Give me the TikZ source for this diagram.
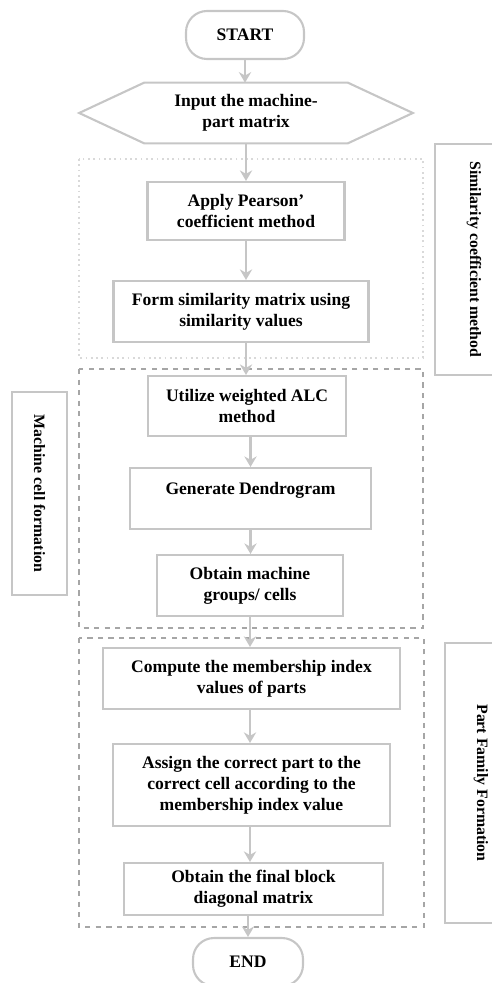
\documentclass[tikz,border=0pt]{standalone}
\usepackage{fontspec}
\setmainfont{Liberation Serif}
\usetikzlibrary{arrows.meta}

\begin{document}
\begin{tikzpicture}[x=0.02cm, y=-0.02cm,
    every node/.style={font=\bfseries, align=center},
    stepbox/.style={draw=gray!45, line width=1.2pt, inner sep=2pt},
    termbox/.style={stepbox, rounded corners=0.42cm},
    sidebox/.style={draw=gray!45, line width=1.2pt, rotate=-90, font=\small\bfseries},
    flowarrow/.style={draw=gray!45, line width=1.2pt, -{Stealth[length=6pt, width=7pt]}}]
  \useasboundingbox (0,0) rectangle (491,983);

  % Stage frames
  \draw[gray!30, dotted, line width=1pt] (79,159) rectangle (423,358);
  \draw[gray!70, dashed, line width=0.7pt] (79,369) rectangle (423,628);
  \draw[gray!70, dashed, line width=0.7pt] (79,638) rectangle (424,927);

  % Flow steps
  \node[termbox, minimum width=2.36cm, minimum height=0.96cm] (start) at (245,35) {START};
  \node[minimum width=6.66cm, minimum height=1.2cm] (input) at (246,113)
      {Input the machine-\\part matrix};
  \draw[gray!45, line width=1.2pt] (input.west) -- ([xshift=1.3cm]input.north west)
      -- ([xshift=-1.3cm]input.north east) -- (input.east)
      -- ([xshift=-1.3cm]input.south east) -- ([xshift=1.3cm]input.south west) -- cycle;
  \node[stepbox, minimum width=3.94cm, minimum height=1.16cm] (pearson) at (246,211)
      {Apply Pearson'\\coefficient method};
  \node[stepbox, minimum width=5.1cm, minimum height=1.22cm] (simmat) at (241,311.5)
      {Form similarity matrix using\\similarity values};
  \node[stepbox, minimum width=3.96cm, minimum height=1.2cm] (alc) at (247,406)
      {Utilize weighted ALC\\method};
  \node[stepbox, minimum width=4.82cm, minimum height=1.22cm] (dendro) at (250.5,498.5)
      {Generate Dendrogram\\\mbox{}};
  \node[stepbox, minimum width=3.72cm, minimum height=1.22cm] (groups) at (250,585.5)
      {Obtain machine\\groups/ cells};
  \node[stepbox, minimum width=5.94cm, minimum height=1.22cm] (member) at (251.5,678.5)
      {Compute the membership index\\values of parts};
  \node[stepbox, minimum width=5.54cm, minimum height=1.64cm] (assign) at (251.5,785)
      {Assign the correct part to the\\correct cell according to the\\membership index value};
  \node[stepbox, minimum width=5.18cm, minimum height=1.04cm] (final) at (253.5,889)
      {Obtain the final block\\diagonal matrix};
  \node[termbox, minimum width=2.2cm, minimum height=0.96cm] (finish) at (248,962) {END};

  % Side labels
  \node[sidebox, minimum width=4.62cm, minimum height=1.56cm] (simlabel) at (474,259.5)
      {Similarity coefficient method};
  \node[sidebox, minimum width=4.06cm, minimum height=1.1cm] (celllabel) at (39.5,493.5)
      {Machine cell formation};
  \node[sidebox, minimum width=5.6cm, minimum height=1.44cm] (partlabel) at (481,783)
      {Part Family Formation};

  % Connectors
  \draw[flowarrow] (start) -- (start |- input.north);
  \draw[flowarrow] (input) -- (input |- pearson.north);
  \draw[flowarrow] (pearson) -- (pearson |- simmat.north);
  \draw[flowarrow] (pearson |- simmat.south) -- (pearson |- alc.north);
  \draw[flowarrow] (dendro |- alc.south) -- (dendro |- dendro.north);
  \draw[flowarrow] (dendro) -- (dendro |- groups.north);
  \draw[flowarrow] (groups) -- (groups |- member.north);
  \draw[flowarrow] (groups |- member.south) -- (groups |- assign.north);
  \draw[flowarrow] (groups |- assign.south) -- (groups |- final.north);
  \draw[flowarrow] (finish |- final.south) -- (finish);
\end{tikzpicture}
\end{document}
